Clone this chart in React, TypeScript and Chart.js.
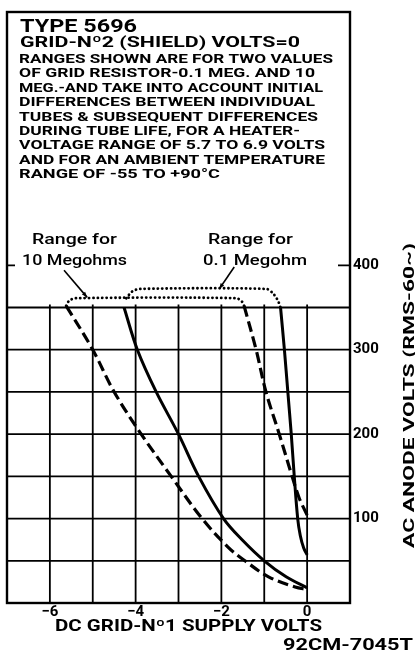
import React, { useEffect, useRef } from "react";
import { Chart, registerables } from "chart.js";

Chart.register(...registerables);

// ---- axis values ----
const xTickValues = [-6, -4, -2, 0];
const yTickValues = [100, 200, 300, 400];
const xGridValues = [-6, -5, -4, -3, -2, -1, 0];
const yGridValues = [50, 100, 150, 200, 250, 300, 350];

// ---- curves: 10 megohm grid resistor ----
const tenMegSolidX = [-4.27, -3.96, -3.52, -3.0, -2.53, -1.95, -1.5, -1.0, -0.49, 0];
const tenMegSolidY = [350, 300, 250, 200, 150, 100, 74, 50, 31, 18];
const tenMegDashedX = [-5.62, -5.0, -4.5, -3.87, -3.17, -2.45, -1.84, -1.45, -0.9, -0.28, 0];
const tenMegDashedY = [352, 300, 250, 200, 150, 100, 66, 50, 31, 19, 16];

// ---- curves: 0.1 megohm grid resistor ----
const pointOneSolidX = [-0.62, -0.53, -0.45, -0.37, -0.3, -0.22, -0.16, -0.08, 0];
const pointOneSolidY = [350, 300, 250, 200, 150, 100, 80, 65, 57];
const pointOneDashedX = [-1.47, -1.19, -0.96, -0.65, -0.35, -0.19, 0];
const pointOneDashedY = [352, 300, 250, 200, 150, 125, 104];

// ---- dotted range brackets ----
const tenMegRangeX = [-5.62, -5.55, -5.4, -1.65, -1.52, -1.47];
const tenMegRangeY = [352, 358, 361, 361, 357, 352];
const pointOneRangeX = [-4.22, -4.08, -3.9, -0.95, -0.8, -0.68, -0.62];
const pointOneRangeY = [361, 369, 372, 372, 367, 358, 350];

// ---- leader arrows (tail -> head) ----
const arrowTailX = [-5.67, -1.7];
const arrowTailY = [394, 398];
const arrowHeadX = [-5.13, -2.05];
const arrowHeadY = [362, 372];

// ---- texts ----
const titleText = "TYPE 5696";
const subTitleText = "GRID-N\u00BA2 (SHIELD) VOLTS=0";
const noteLines = [
  "RANGES SHOWN ARE FOR TWO VALUES",
  "OF GRID RESISTOR-0.1 MEG. AND 10",
  "MEG.-AND TAKE INTO ACCOUNT INITIAL",
  "DIFFERENCES BETWEEN INDIVIDUAL",
  "TUBES & SUBSEQUENT DIFFERENCES",
  "DURING TUBE LIFE, FOR A HEATER-",
  "VOLTAGE RANGE OF 5.7 TO 6.9 VOLTS",
  "AND FOR AN AMBIENT TEMPERATURE",
  "RANGE OF -55 TO +90\u00B0C",
];
const rangeLabelTen = ["Range for", "10 Megohms"];
const rangeLabelPointOne = ["Range for", "0.1 Megohm"];
const xAxisTitle = "DC GRID-N\u00BA1 SUPPLY VOLTS";
const yAxisTitle = "AC ANODE VOLTS (RMS-60~)";
const figureCode = "92CM-7045T";

// layout of text (pixels)
const noteRight = [333, 315, 323, 315, 318, 300, 325, 325, 220];

const toPts = (xs: number[], ys: number[]) => xs.map((x, i) => ({ x, y: ys[i] }));

function drawFit(ctx: CanvasRenderingContext2D, text: string, x: number, y: number, width: number, font: string, align: "left" | "center" = "left") {
  ctx.save();
  ctx.font = font;
  const w = ctx.measureText(text).width;
  ctx.translate(x, y);
  ctx.scale(width / w, 1);
  ctx.textAlign = align;
  ctx.textBaseline = "alphabetic";
  ctx.fillStyle = "#000";
  ctx.fillText(text, 0, 0);
  ctx.restore();
}

const gridPlugin = {
  id: "tubeGrid",
  beforeDatasetsDraw(chart: any) {
    const { ctx, chartArea, scales } = chart;
    const xs = scales.x;
    const ys = scales.y;
    ctx.save();
    ctx.strokeStyle = "#000";
    ctx.lineWidth = 1.8;
    ctx.lineCap = "butt";
    const top = ys.getPixelForValue(yGridValues[yGridValues.length - 1]);
    const bottom = ys.getPixelForValue(0);
    for (const v of xGridValues) {
      const px = xs.getPixelForValue(v);
      ctx.beginPath();
      ctx.moveTo(px, top - 3);
      ctx.lineTo(px, bottom);
      ctx.stroke();
    }
    for (const v of yGridValues) {
      const py = ys.getPixelForValue(v);
      ctx.beginPath();
      ctx.moveTo(chartArea.left, py);
      ctx.lineTo(chartArea.right, py);
      ctx.stroke();
    }
    // box
    ctx.lineWidth = 2.4;
    ctx.strokeRect(chartArea.left, chartArea.top, chartArea.right - chartArea.left, chartArea.bottom - chartArea.top);
    // 400 tick marks
    ctx.lineWidth = 1.8;
    const p400 = ys.getPixelForValue(400);
    ctx.beginPath();
    ctx.moveTo(chartArea.left, p400);
    ctx.lineTo(chartArea.left + 8, p400);
    ctx.moveTo(chartArea.right - 12, p400);
    ctx.lineTo(chartArea.right, p400);
    ctx.stroke();
    ctx.restore();
  },
  afterDraw(chart: any) {
    const { ctx, scales } = chart;
    const xs = scales.x;
    const ys = scales.y;
    ctx.save();
    // arrows
    ctx.strokeStyle = "#000";
    ctx.fillStyle = "#000";
    ctx.lineWidth = 1.6;
    for (let i = 0; i < arrowTailX.length; i++) {
      const x1 = xs.getPixelForValue(arrowTailX[i]);
      const y1 = ys.getPixelForValue(arrowTailY[i]);
      const x2 = xs.getPixelForValue(arrowHeadX[i]);
      const y2 = ys.getPixelForValue(arrowHeadY[i]);
      ctx.beginPath();
      ctx.moveTo(x1, y1);
      ctx.lineTo(x2, y2);
      ctx.stroke();
      const a = Math.atan2(y2 - y1, x2 - x1);
      ctx.beginPath();
      ctx.moveTo(x2, y2);
      ctx.lineTo(x2 - 6 * Math.cos(a - 0.35), y2 - 6 * Math.sin(a - 0.35));
      ctx.lineTo(x2 - 6 * Math.cos(a + 0.35), y2 - 6 * Math.sin(a + 0.35));
      ctx.closePath();
      ctx.fill();
    }
    ctx.restore();

    const bold = (s: number) => `bold ${s}px Roboto, "DejaVu Sans", sans-serif`;
    const med = (s: number) => `500 ${s}px Roboto, "DejaVu Sans", sans-serif`;
    // header block
    drawFit(ctx, titleText, 20, 32, 117, bold(18));
    drawFit(ctx, subTitleText, 20, 47, 280, bold(15));
    noteLines.forEach((t, i) => {
      drawFit(ctx, t, 19, 63 + i * 14.4, noteRight[i] - 19, bold(12.5));
    });
    // range labels
    drawFit(ctx, rangeLabelTen[0], 74.5, 244, 85, med(15), "center");
    drawFit(ctx, rangeLabelTen[1], 74.5, 265, 105, med(15), "center");
    drawFit(ctx, rangeLabelPointOne[0], 250.5, 244, 85, med(15), "center");
    drawFit(ctx, rangeLabelPointOne[1], 255, 265, 104, med(15), "center");
    // axis titles
    drawFit(ctx, xAxisTitle, 188.5, 631, 267, bold(16), "center");
    drawFit(ctx, figureCode, 348, 650, 130, bold(16), "center");
    ctx.save();
    ctx.translate(414, 395.5);
    ctx.rotate(-Math.PI / 2);
    drawFit(ctx, yAxisTitle, 0, 0, 305, bold(15), "center");
    ctx.restore();
  },
};

export default function App() {
  const ref = useRef<HTMLCanvasElement | null>(null);
  useEffect(() => {
    if (!ref.current) return;
    const base = {
      borderColor: "#000",
      pointRadius: 0,
      fill: false,
      tension: 0.35,
    };
    const tickFont = { family: "Roboto, 'DejaVu Sans', sans-serif", size: 15, weight: "bold" as const };
    const chart = new Chart(ref.current, {
      type: "line",
      data: {
        datasets: [
          { ...base, data: toPts(tenMegSolidX, tenMegSolidY), borderWidth: 3 },
          { ...base, data: toPts(tenMegDashedX, tenMegDashedY), borderWidth: 3.2, borderDash: [11, 5] },
          { ...base, data: toPts(pointOneSolidX, pointOneSolidY), borderWidth: 3 },
          { ...base, data: toPts(pointOneDashedX, pointOneDashedY), borderWidth: 3.2, borderDash: [11, 5] },
          { ...base, tension: 0.3, data: toPts(tenMegRangeX, tenMegRangeY), borderWidth: 2.8, borderDash: [0.1, 4.3], borderCapStyle: "round" },
          { ...base, tension: 0.3, data: toPts(pointOneRangeX, pointOneRangeY), borderWidth: 2.8, borderDash: [0.1, 4.3], borderCapStyle: "round" },
        ],
      },
      options: {
        responsive: false,
        animation: false,
        layout: { padding: { left: 7, top: 7, right: 0, bottom: 0 } },
        plugins: { legend: { display: false }, tooltip: { enabled: false } },
        scales: {
          x: {
            type: "linear",
            min: -7,
            max: 1,
            afterBuildTicks: (s: any) => {
              s.ticks = xTickValues.map((v) => ({ value: v }));
            },
            afterFit: (s: any) => {
              s.height = 52;
            },
            grid: { display: false, drawTicks: false },
            border: { display: false },
            ticks: {
              autoSkip: false,
              maxRotation: 0,
              padding: 0,
              color: "#000",
              font: tickFont,
              callback: (v: any) => (Number(v) < 0 ? "\u2212" + Math.abs(Number(v)) : String(v)),
            },
          },
          y: {
            type: "linear",
            position: "right",
            min: 0,
            max: 700,
            afterBuildTicks: (s: any) => {
              s.ticks = yTickValues.map((v) => ({ value: v }));
            },
            afterFit: (s: any) => {
              s.width = 65;
            },
            grid: { display: false, drawTicks: false },
            border: { display: false },
            ticks: {
              autoSkip: false,
              padding: 3,
              color: "#000",
              font: tickFont,
              callback: (v: any) => String(v),
            },
          },
        },
      },
      plugins: [gridPlugin],
    } as any);
    return () => chart.destroy();
  }, []);
  return (
    <canvas
      ref={ref}
      width={415}
      height={655}
      style={{ position: "absolute", left: 0, top: 0, width: 415, height: 655, display: "block", background: "#fff" }}
    />
  );
}
